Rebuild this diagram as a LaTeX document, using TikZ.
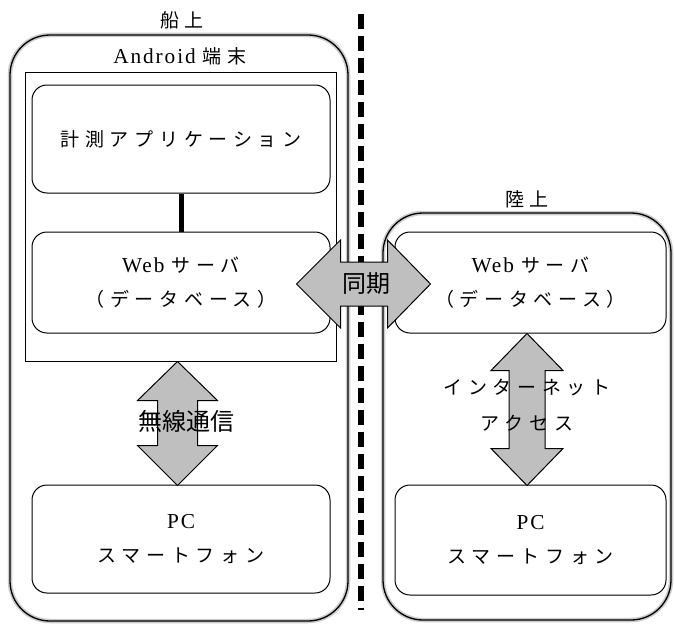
\documentclass[tikz,border=0pt]{standalone}
\usepackage{fontspec}
\setmainfont{Liberation Serif}[Scale=1.12, LetterSpace=9]
\newfontfamily\jpfont{Noto Sans CJK JP}[LetterSpace=30]
\newfontfamily\jpplain{Noto Sans CJK JP}
\usetikzlibrary{calc,positioning}

\newcommand{\ja}[1]{{\jpfont #1}}

\tikzset{
  zone/.style={draw, line width=1.3pt, rounded corners=40pt,
    preaction={draw=black!20, line width=4.5pt}},
  box/.style={draw, line width=1pt, rounded corners=15pt, align=center, fill=white},
  fatarrow/.style={draw, line width=1pt, fill=black!25, line join=miter},
  biglbl/.style={font=\jpplain\fontsize{24}{28}\selectfont},
}

\begin{document}
\begin{tikzpicture}[x=1pt, y=-1pt, font=\fontsize{19}{34}\selectfont]
    \useasboundingbox (0,0) rectangle (674,626);

    % ship and land areas
    \node [zone, minimum width=338, minimum height=586] (ship) at (179,328) {};
    \node [zone, minimum width=288, minimum height=407] (land) at (527,416.5) {};
    \node (shiplbl) at (182,20) {\ja{船上}};
    \node (landlbl) at (527,199) {\ja{陸上}};

    % divider
    \coordinate (divtop) at (361,14);
    \coordinate (divbot) at (361,610);
    \draw [line width=6pt, dash pattern=on 15pt off 7pt] (divtop) -- (divbot);

    % Android device
    \node [draw, line width=1pt, minimum width=311, minimum height=289] (android) at (180.5,216.5) {};
    \node (androidlbl) at (180,56) {Android \ja{端末}};
    \node [box, minimum width=298, minimum height=108] (app) at (181,139) {\ja{計測アプリケーション}};
    \node [box, minimum width=298, minimum height=101] (webL) at (181,282.5) {Web \ja{サーバ}\\\ja{（データベース）}};
    \draw [line width=5pt] (app) -- (webL);

    % land side server
    \node [box, minimum width=271, minimum height=101] (webR) at (530.5,282.5) {Web \ja{サーバ}\\\ja{（データベース）}};

    % clients
    \node [box, minimum width=298, minimum height=108] (pcL) at (181,539) {PC\\\ja{スマートフォン}};
    \node [box, minimum width=271, minimum height=110] (pcR) at (530.5,540) {PC\\\ja{スマートフォン}};

    % sync arrow
    \draw [fatarrow] ($(webL.east)+(-34,1.5)$) -- ++(44,-44) -- ++(0,22) -- ++(47,0) -- ++(0,-22)
        -- ++(43,44) -- ++(-43,44) -- ++(0,-22) -- ++(-47,0) -- ++(0,22) -- cycle;
    \node [biglbl] (synclbl) at (366,284) {同期};

    % wireless arrow
    \draw [fatarrow] ($(android.south)+(-3,0)$) -- ++(40,39) -- ++(-20,0) -- ++(0,45) -- ++(20,0)
        -- ++(-40,40) -- ++(-40,-40) -- ++(20,0) -- ++(0,-45) -- ++(-20,0) -- cycle;
    \node [biglbl] (wirelbl) at (186,421) {無線通信};

    % internet arrow
    \draw [fatarrow] ($(webR.south)+(-3.5,0)$) -- ++(36,37) -- ++(-18,0) -- ++(0,78) -- ++(18,0)
        -- ++(-36,37) -- ++(-36,-37) -- ++(18,0) -- ++(0,-78) -- ++(-18,0) -- cycle;
    \node (netlbl) at (527,387) {\ja{インターネット}};
    \node (acclbl) at (527,423) {\ja{アクセス}};
\end{tikzpicture}
\end{document}
